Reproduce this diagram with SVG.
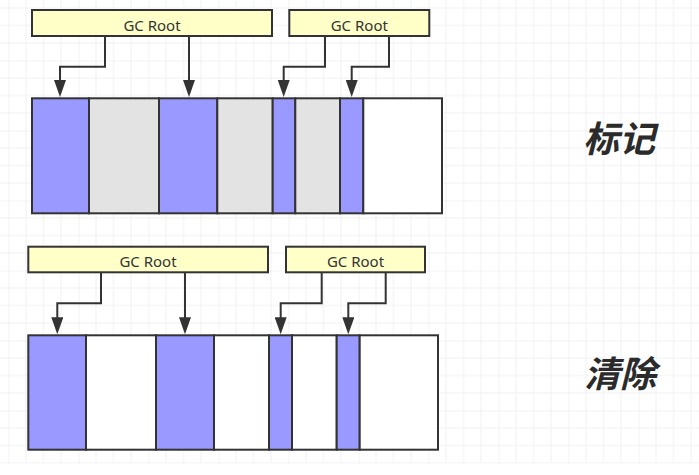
<svg xmlns="http://www.w3.org/2000/svg" width="699" height="475" viewBox="0 0 699 475">
<style>
.root{fill:#ffffc8;stroke:#333;stroke-width:2}
.lbl{font-family:"Noto Sans","Liberation Sans",sans-serif;font-size:15px;fill:#333;text-anchor:middle}
.b{fill:#9999ff;stroke:#333;stroke-width:2}
.g{fill:#e3e3e3;stroke:#333;stroke-width:2}
.w{fill:#ffffff;stroke:#333;stroke-width:2}
.conn{fill:none;stroke:#333;stroke-width:2;marker-end:url(#arr)}
.title{font-family:"Noto Sans CJK SC","Noto Sans",sans-serif;font-size:36px;font-weight:bold;font-style:italic;fill:#2b2b2b;text-anchor:middle}
</style>
<defs>
<marker id="arr" markerUnits="userSpaceOnUse" markerWidth="17" markerHeight="12" refX="10" refY="6" orient="auto">
<path d="M0,0 L17,6 L0,12 z" fill="#333"/>
</marker>
<pattern id="grid" patternUnits="userSpaceOnUse" x="8.5" y="60.5" width="70" height="70">
<path d="M17.5,0 V70 M35,0 V70 M52.5,0 V70 M0,17.5 H70 M0,35 H70 M0,52.5 H70" stroke="#f1f1f1" stroke-width="1" fill="none"/>
<path d="M0,0 V70 M0,0 H70" stroke="#e6e6e6" stroke-width="1" fill="none"/>
</pattern>
</defs>
<rect x="0" y="0" width="699" height="475" fill="#ffffff"/>
<rect x="0" y="0" width="699" height="463.5" fill="url(#grid)"/>

<g id="gcroot-mark-1"><rect class="root" x="32" y="10" width="240" height="26"/><text class="lbl" x="152" y="30.5">GC Root</text></g>
<g id="gcroot-mark-2"><rect class="root" x="289.3" y="10" width="140" height="26"/><text class="lbl" x="359.3" y="30.5">GC Root</text></g>

<g id="heap-mark">
<rect class="b" x="32" y="98.3" width="57" height="115"/>
<rect class="g" x="89" y="98.3" width="70" height="115"/>
<rect class="b" x="159" y="98.3" width="58.3" height="115"/>
<rect class="g" x="217.3" y="98.3" width="55.4" height="115"/>
<rect class="b" x="272.7" y="98.3" width="22.6" height="115"/>
<rect class="g" x="295.3" y="98.3" width="44.7" height="115"/>
<rect class="b" x="340" y="98.3" width="23.3" height="115"/>
<rect class="w" x="363.3" y="98.3" width="78.7" height="115"/>
</g>

<g id="gcroot-sweep-1"><rect class="root" x="28.3" y="246.7" width="239.7" height="25.6"/><text class="lbl" x="148" y="267">GC Root</text></g>
<g id="gcroot-sweep-2"><rect class="root" x="286" y="246.7" width="139" height="25.6"/><text class="lbl" x="355.5" y="267">GC Root</text></g>

<g id="heap-sweep">
<rect class="b" x="28.3" y="335.3" width="57.7" height="114.4"/>
<rect class="w" x="86" y="335.3" width="70" height="114.4"/>
<rect class="b" x="156" y="335.3" width="58" height="114.4"/>
<rect class="w" x="214" y="335.3" width="55" height="114.4"/>
<rect class="b" x="269" y="335.3" width="23" height="114.4"/>
<rect class="w" x="292" y="335.3" width="44.7" height="114.4"/>
<rect class="b" x="336.7" y="335.3" width="23" height="114.4"/>
<rect class="w" x="359.7" y="335.3" width="78.3" height="114.4"/>
</g>

<g id="connectors">
<path class="conn" d="M105,37 V66.7 H60 V90"/>
<path class="conn" d="M189,37 V90"/>
<path class="conn" d="M325,37 V66.7 H283.7 V90"/>
<path class="conn" d="M389,37 V66.7 H351.7 V90"/>
<path class="conn" d="M101,273 V303.3 H57.3 V327.3"/>
<path class="conn" d="M185,273 V327.3"/>
<path class="conn" d="M321.7,273 V303.3 H280.7 V327.3"/>
<path class="conn" d="M385.7,273 V303.3 H348.3 V327.3"/>
</g>

<g id="label-mark"><text class="title" x="619" y="152">标记</text></g>
<g id="label-sweep"><text class="title" x="620" y="387">清除</text></g>
</svg>
